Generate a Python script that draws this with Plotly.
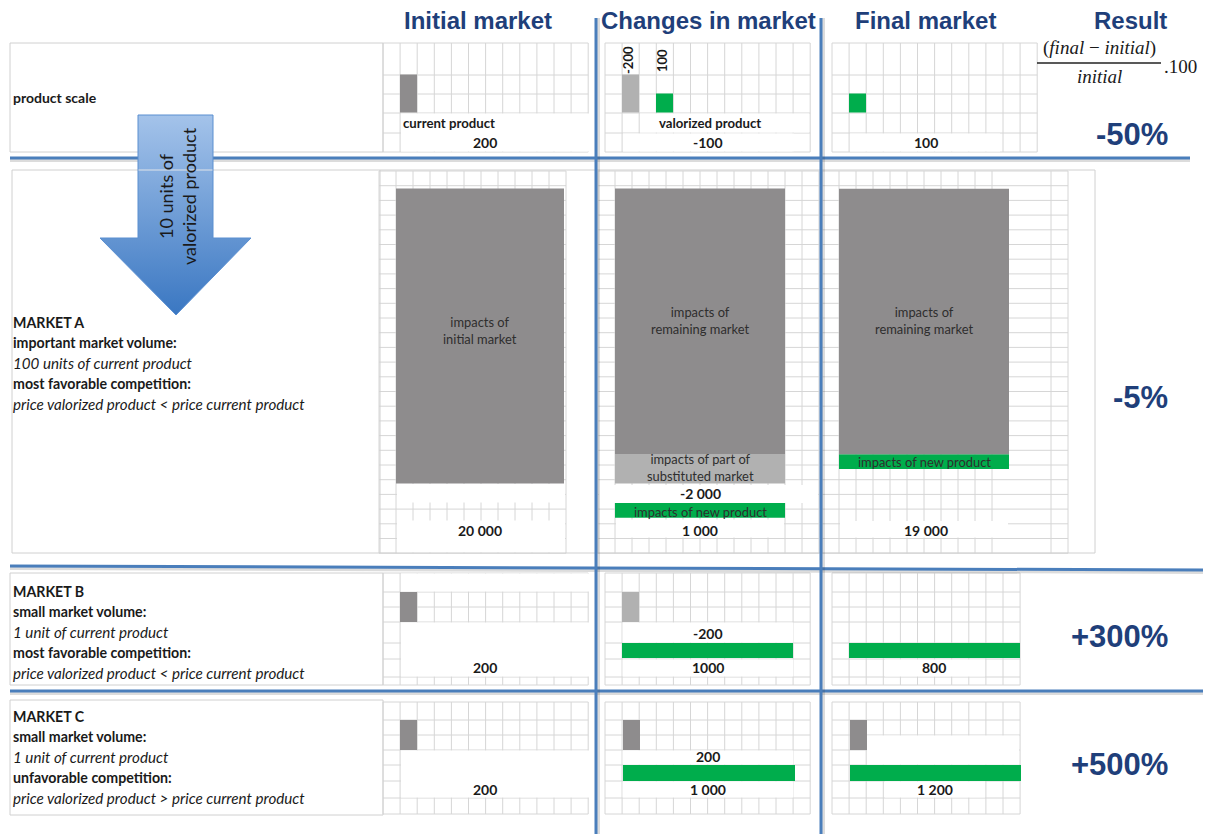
import plotly.graph_objects as go

W, H = 1211, 834

# ---------------- data ----------------
column_titles = ["Initial market", "Changes in market", "Final market", "Result"]

scale_initial = [200]            # current product
scale_change = [-200, 100]       # current product, valorized product
scale_final = [100]              # valorized product
scale_totals = ["200", "-100", "100"]
scale_item_labels = ["current product", "valorized product"]

a_initial = [20000]              # impacts of initial market
a_change = [-2000, 1000]         # substituted part, new product
a_final_new = [1000]             # new product
a_totals = ["20 000", "1 000", "19 000"]

b_initial = [200]
b_change = [-200, 1000]
b_final = [800]
b_totals = ["200", "1000", "800"]

c_initial = [200]
c_change = [200, 1000]
c_final = [200, 1000]
c_totals = ["200", "1 000", "1 200"]

results = ["-50%", "-5%", "+300%", "+500%"]

market_a_text = [("MARKET A", "b"), ("important market volume:", "b"),
                 ("100 units of current product", "i"), ("most favorable competition:", "b"),
                 ("price valorized product < price current product", "i")]
market_b_text = [("MARKET B", "b"), ("small market volume:", "b"),
                 ("1 unit of current product", "i"), ("most favorable competition:", "b"),
                 ("price valorized product < price current product", "i")]
market_c_text = [("MARKET C", "b"), ("small market volume:", "b"),
                 ("1 unit of current product", "i"), ("unfavorable competition:", "b"),
                 ("price valorized product > price current product", "i")]

# ---------------- styles ----------------
GRAY = "#8e8c8d"
LIGHT = "#b1b1b1"
GREEN = "#00ad4c"
GRID = "#d6d6d6"
BLUE = "#4a7ebb"
NAVY = "#1f3f7a"
TXT = "#1a1a1a"
BODY = "Lato, 'Open Sans', sans-serif"
HEAD = "'Liberation Sans Narrow', 'Arial Narrow', 'Liberation Sans', Arial, sans-serif"
SERIF = "'Liberation Serif', 'DejaVu Serif', serif"

fig = go.Figure()
shapes = []
annotations = []
axes = {}
counter = {"x": 1, "y": 1}


def value_yaxis(base_px, ppu):
    counter["y"] += 1
    n = counter["y"]
    axes[f"yaxis{n}"] = dict(overlaying="y", anchor="x", range=[(base_px - H) / ppu, base_px / ppu],
                             visible=False, fixedrange=True)
    return f"y{n}"


def value_xaxis(x0_px, length_px, full_value):
    counter["x"] += 1
    n = counter["x"]
    k = full_value / length_px
    axes[f"xaxis{n}"] = dict(overlaying="x", anchor="y", range=[-x0_px * k, (W - x0_px) * k],
                             visible=False, fixedrange=True)
    return f"x{n}"


def vbar(yref, xc, w, value, base, color):
    fig.add_trace(go.Bar(x=[xc], y=[value], base=[base], width=[w], xaxis="x", yaxis=yref,
                         marker=dict(color=color, line=dict(width=0)), showlegend=False,
                         hoverinfo="skip"))


def hbar(xref, yc, th, value, color):
    fig.add_trace(go.Bar(y=[yc], x=[value], base=[0], width=[th], orientation="h", xaxis=xref,
                         yaxis="y", marker=dict(color=color, line=dict(width=0)),
                         showlegend=False, hoverinfo="skip"))


def line(x0, y0, x1, y1, color, width=1, layer="below"):
    shapes.append(dict(type="line", xref="x", yref="y", x0=x0, y0=y0, x1=x1, y1=y1,
                       line=dict(color=color, width=width), layer=layer))


def rect(x0, y0, x1, y1, fill=None, border=None, width=1):
    shapes.append(dict(type="rect", xref="x", yref="y", x0=x0, y0=y0, x1=x1, y1=y1,
                       fillcolor=fill if fill else "rgba(0,0,0,0)",
                       line=dict(color=border if border else "rgba(0,0,0,0)", width=width if border else 0),
                       layer="below"))


def txt(x, y, s, size=12.5, color=TXT, family=BODY, style="", xanchor="center", angle=0):
    if "b" in style:
        s = f"<b>{s}</b>"
    if "i" in style:
        s = f"<i>{s}</i>"
    annotations.append(dict(x=x, y=y, xref="x", yref="y", text=s, showarrow=False,
                            xanchor=xanchor, yanchor="middle", textangle=angle,
                            font=dict(size=size, color=color, family=family)))


def frange(x0, step, n):
    return [x0 + step * i for i in range(n + 1)]


def grid(xs, ys):
    for x in xs:
        line(x, ys[0], x, ys[-1], GRID)
    for y in ys:
        line(xs[0], y, xs[-1], y, GRID)


# ---------------- cell grids (decoration) ----------------
ys0 = [43, 75, 94, 113, 133, 152]
for x0 in (383, 605, 832):
    grid(frange(x0, 17.1, 12), ys0)
ysA = frange(171, 14.7, 26)
grid(frange(379, 17, 11), ysA)
grid(frange(598, 17, 13), ysA)
grid(frange(822, 17, 10) + [1051, 1068], ysA)
ysB = [573, 592, 607, 622, 643, 659, 677, 685]
ysC = [702, 720, 735, 750, 765, 781, 798, 814]
for ys in (ysB, ysC):
    grid(frange(383, 17.1, 12), ys)
    grid(frange(605, 17.1, 12), ys)
    grid(frange(832, 17.1, 11), ys)

# merged (white) cells
for box in [
    (401, 113.6, 589, 151.4), (640, 113.6, 809, 132.4), (623, 133.6, 794, 151.4), (850, 133.6, 1000, 151.4),
    (397, 484, 565, 502.5), (397, 520.5, 565, 552.5), (599, 485, 818, 503), (616, 519.5, 784, 537.5),
    (840, 521, 1008, 537.5),
    (401, 573.6, 589, 591.4), (401, 622.6, 589, 676.4), (622.6, 622.6, 793.4, 642.4),
    (622.6, 659.6, 793.4, 676.4), (885, 659.6, 985, 676.4),
    (401, 750.6, 589, 797.4), (622.6, 750.6, 793.4, 764.4), (622.6, 781.6, 793.4, 797.4),
    (867, 735.6, 1019, 764.4), (885, 781.6, 985, 797.4),
]:
    rect(*box, fill="white")

# label boxes
rect(10, 43, 383, 152, border="#d0d0d0")
rect(12, 170, 1095, 553, border="#d0d0d0")
line(380, 170, 380, 553, "#d0d0d0")
rect(10, 573, 383, 685, border="#d0d0d0")
rect(10, 700, 383, 815, border="#d0d0d0")

# blue separators with soft shadow
SHADOW = "rgba(60,60,60,0.18)"
for (x0, y0, x1, y1) in [(10, 158, 1190, 158), (10, 566, 1203, 570), (10, 691, 1203, 691)]:
    line(x0, y0 + 2.5, x1, y1 + 2.5, SHADOW, 3)
    line(x0, y0, x1, y1, BLUE, 3)
for (x0, y0, x1, y1) in [(596, 18, 596, 834), (821, 18, 821, 834)]:
    line(x0 + 2.5, y0, x1 + 2.5, y1, SHADOW, 3)
    line(x0, y0, x1, y1, BLUE, 3)

# ---------------- bars ----------------
# product scale
ax_s = value_yaxis(112.5, 0.19)
vbar(ax_s, 408.5, 17, scale_initial[0], 0, GRAY)
vbar(ax_s, 630.5, 17, abs(scale_change[0]), 0, LIGHT if scale_change[0] < 0 else GRAY)
vbar(ax_s, 664.5, 17, scale_change[1], 0, GREEN)
vbar(ax_s, 857.5, 17, scale_final[0], 0, GREEN)

# market A
PPU_A = 0.01475
ax_a = value_yaxis(483.5, PPU_A)
ax_af = value_yaxis(469, PPU_A)
a_remaining = a_initial[0] + a_change[0]
vbar(ax_a, 480, 168, a_initial[0], 0, GRAY)
vbar(ax_a, 700, 170, abs(a_change[0]), 0, LIGHT)
vbar(ax_a, 700, 170, a_remaining, abs(a_change[0]), GRAY)
gap_a = 19.5 / PPU_A
vbar(ax_a, 700, 170, a_change[1], -gap_a - a_change[1], GREEN)
vbar(ax_af, 924, 170, a_final_new[0], 0, GREEN)
vbar(ax_af, 924, 170, a_remaining, a_final_new[0], GRAY)

# market B
ax_b = value_yaxis(622, 0.15)
vbar(ax_b, 408.5, 17, b_initial[0], 0, GRAY)
vbar(ax_b, 630.5, 17, abs(b_change[0]), 0, LIGHT if b_change[0] < 0 else GRAY)
hbar(value_xaxis(622, 171, b_change[1]), 650.5, 15, b_change[1], GREEN)
hbar(value_xaxis(849, 171, b_final[0]), 650.5, 15, b_final[0], GREEN)

# market C
ax_c = value_yaxis(750, 0.15)
vbar(ax_c, 408.5, 17, c_initial[0], 0, GRAY)
vbar(ax_c, 631.5, 17, abs(c_change[0]), 0, LIGHT if c_change[0] < 0 else GRAY)
hbar(value_xaxis(623, 172, c_change[1]), 773, 16, c_change[1], GREEN)
vbar(ax_c, 858.5, 17, c_final[0], 0, GRAY)
hbar(value_xaxis(850, 171, c_final[1]), 773, 16, c_final[1], GREEN)

# ---------------- arrow ----------------
fig.add_trace(go.Scatter(
    x=[138, 213, 213, 251, 176, 100, 138, 138],
    y=[115, 115, 238, 238, 315, 238, 238, 115],
    mode="lines", fill="toself", line=dict(color="#5b8fd0", width=1),
    fillgradient=dict(type="vertical", start=115, stop=315,
                      colorscale=[[0, "#a4c3ea"], [1, "#3a77c2"]]),
    xaxis="x", yaxis="y", showlegend=False, hoverinfo="skip"))
# thin cell border visible across the arrow shaft
line(138.5, 170, 212.5, 170, "rgba(235,235,235,0.9)", 1, layer="above")
txt(177, 196, "10 units of<br>valorized product", size=18, angle=-90)

# ---------------- texts ----------------
for xc, t in zip([478, 708, 925, 1130], column_titles):
    txt(xc, 20, t, size=24, color=NAVY, family=HEAD, style="b")

# formula
txt(1099, 48, "(<i>final</i> − <i>initial</i>)", size=19, family=SERIF)
line(1037, 63, 1161, 63, "#222222", 1.4)
txt(1099, 76, "<i>initial</i>", size=19, family=SERIF)
txt(1162, 66, ".100", size=19, family=SERIF, xanchor="left")

# results (right aligned)
for yc, r in zip([134, 397, 636, 764], results):
    txt(1170, yc, r, size=31, color=NAVY, family=HEAD, style="b", xanchor="right")

# product scale labels
txt(11, 97, "product scale", size=14, style="b", xanchor="left")
txt(401, 123, scale_item_labels[0], size=13.2, style="b", xanchor="left")
txt(657, 123, scale_item_labels[1], size=13.2, style="b", xanchor="left")
txt(485, 142, scale_totals[0], size=14, style="b")
txt(708, 142, scale_totals[1], size=14, style="b")
txt(926, 142, scale_totals[2], size=14, style="b")
txt(628, 60, str(scale_change[0]), size=13, style="b", angle=-90)
txt(662, 61, str(scale_change[1]), size=13, style="b", angle=-90)

# market descriptions
for lines_, y0 in [(market_a_text, 322), (market_b_text, 591), (market_c_text, 716)]:
    for i, (s, st) in enumerate(lines_):
        txt(11, y0 + 20.4 * i, s, size=14.2 if st == "b" else 15.2, style=st, xanchor="left")

# market A bar labels
IN = "#2e2e2e"
BS = 12.9
txt(480, 330, "impacts of<br>initial market", size=BS, color=IN)
txt(700, 320, "impacts of<br>remaining market", size=BS, color=IN)
txt(924, 320, "impacts of<br>remaining market", size=BS, color=IN)
txt(700, 467, "impacts of part of<br>substituted market", size=BS, color=IN)
txt(700, 493, f"{a_change[0]:,}".replace(",", " "), size=14, style="b")
txt(700, 511.5, "impacts of new product", size=BS, color=IN)
txt(924, 461.5, "impacts of new product", size=BS, color=IN)
txt(480, 530, a_totals[0], size=14, style="b")
txt(700, 530, a_totals[1], size=14, style="b")
txt(926, 530, a_totals[2], size=14, style="b")

# market B labels
txt(708, 633, str(b_change[0]), size=14, style="b")
txt(485, 667, b_totals[0], size=14, style="b")
txt(708, 667, b_totals[1], size=14, style="b")
txt(934, 667, b_totals[2], size=14, style="b")

# market C labels
txt(708, 756, str(c_change[0]), size=14, style="b")
txt(485, 789, c_totals[0], size=14, style="b")
txt(708, 789, c_totals[1], size=14, style="b")
txt(935, 789, c_totals[2], size=14, style="b")

fig.update_layout(
    width=W, height=H, margin=dict(l=0, r=0, t=0, b=0),
    paper_bgcolor="white", plot_bgcolor="white", barmode="overlay",
    xaxis=dict(range=[0, W], domain=[0, 1], visible=False, fixedrange=True),
    yaxis=dict(range=[H, 0], domain=[0, 1], visible=False, fixedrange=True),
    shapes=shapes, annotations=annotations, showlegend=False,
    **axes,
)
fig.write_html("out.html", config={"displayModeBar": False})
